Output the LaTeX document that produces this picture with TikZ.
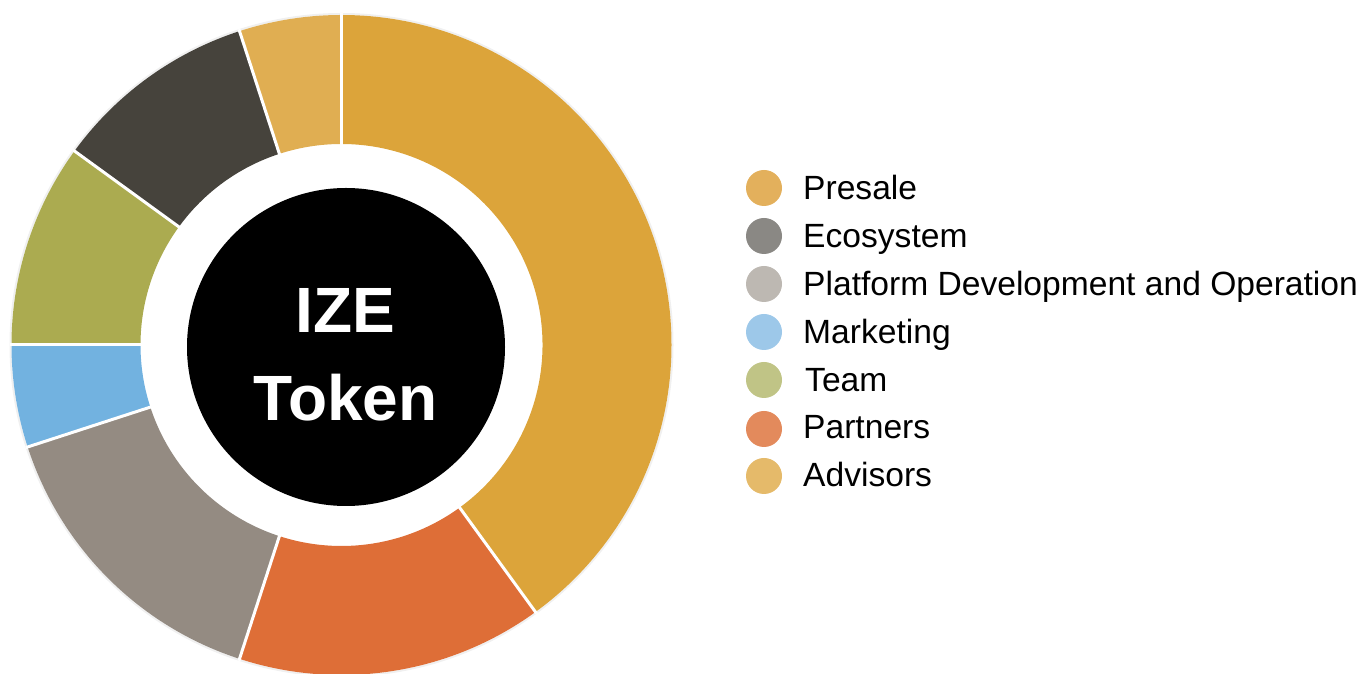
\documentclass[tikz,border=0pt]{standalone}
\usepackage{fontspec}
\setmainfont{Liberation Sans}
\definecolor{cPresale}{HTML}{DCA43A}
\definecolor{cAdvisors}{HTML}{E0AE52}
\definecolor{cEco}{HTML}{46433C}
\definecolor{cTeam}{HTML}{ABAB50}
\definecolor{cMark}{HTML}{72B2E0}
\definecolor{cPlat}{HTML}{948B82}
\definecolor{cPart}{HTML}{DE6E37}
\definecolor{lPresale}{HTML}{E3B05C}
\definecolor{lEco}{HTML}{8A8884}
\definecolor{lPlat}{HTML}{BDB8B2}
\definecolor{lMark}{HTML}{9DC8E9}
\definecolor{lTeam}{HTML}{C0C486}
\definecolor{lPart}{HTML}{E38A5C}
\definecolor{lAdv}{HTML}{E5BA6A}
\newcommand\donutseg[3]{\fill[#3,shift={(341.5,329)}] (#1:330pt) arc[start angle=#1,end angle=#2,radius=330pt] -- (#2:201pt) arc[start angle=#2,end angle=#1,radius=201pt] -- cycle;}
\newcommand\donutsep[1]{\draw[white,line width=3pt,shift={(341.5,329)}] (#1:199pt) -- (#1:332pt);}
\tikzset{
  legdot/.style={circle,inner sep=0pt,minimum size=36pt},
  legtext/.style={anchor=base west,inner sep=0pt,text=black,font=\fontsize{33.6}{40}\selectfont},
  coretext/.style={anchor=base,inner sep=0pt,text=white,font=\bfseries\fontsize{64}{80}\selectfont}
}
\begin{document}
\begin{tikzpicture}[x=1pt,y=1pt]
\useasboundingbox (0,0) rectangle (1360,674);
\draw[black!6,line width=2pt] (341.5,329) circle[radius=331pt];
\donutseg{90}{-54}{cPresale}
\donutseg{-54}{-108}{cPart}
\donutseg{-108}{-162}{cPlat}
\donutseg{-162}{-180}{cMark}
\donutseg{180}{144}{cTeam}
\donutseg{144}{108}{cEco}
\donutseg{108}{90}{cAdvisors}
\foreach \a in {90,-54,-108,-162,180,144,108}{\donutsep{\a}}
\node[circle,fill=black,inner sep=0pt,minimum size=318pt] (core) at (346,327) {};
\node[coretext] (ize) at (345.5,341) {IZE};
\node[coretext] (tok) at (345.5,253) {Token};
\node[legdot,fill=lPresale] (d1) at (764,486) {};
\node[legdot,fill=lEco] (d2) at (764,438) {};
\node[legdot,fill=lPlat] (d3) at (764,390) {};
\node[legdot,fill=lMark] (d4) at (764,342) {};
\node[legdot,fill=lTeam] (d5) at (764,294) {};
\node[legdot,fill=lPart] (d6) at (764,245) {};
\node[legdot,fill=lAdv] (d7) at (764,198) {};
\node[legtext] (t1) at (803,474) {Presale};
\node[legtext] (t2) at (803,426) {Ecosystem};
\node[legtext] (t3) at (803,378) {Platform Development and Operation};
\node[legtext] (t4) at (803,330) {Marketing};
\node[legtext] (t5) at (805,282) {Team};
\node[legtext] (t6) at (803,235) {Partners};
\node[legtext] (t7) at (803,187) {Advisors};
\end{tikzpicture}
\end{document}
